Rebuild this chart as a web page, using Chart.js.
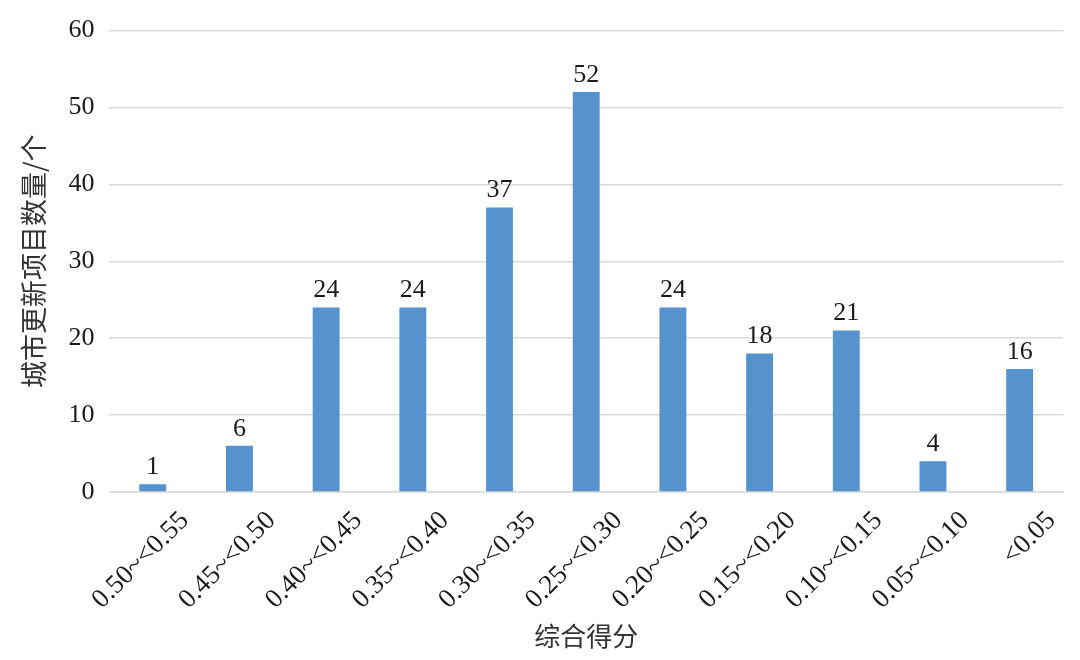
<!DOCTYPE html>
<html>
<head>
<meta charset="utf-8">
<script src="https://cdn.jsdelivr.net/npm/chart.js@4.4.0/dist/chart.umd.min.js"></script>
<style>
  html, body { margin: 0; padding: 0; background: #fff; }
  #wrap { width: 1080px; height: 660px; }
</style>
</head>
<body>
<div id="wrap"><canvas id="scoreChart" width="1080" height="660"></canvas></div>
<script>
const categories = ['0.50~<0.55', '0.45~<0.50', '0.40~<0.45', '0.35~<0.40', '0.30~<0.35',
  '0.25~<0.30', '0.20~<0.25', '0.15~<0.20', '0.10~<0.15', '0.05~<0.10', '<0.05'];
const projectCounts = [1, 6, 24, 24, 37, 52, 24, 18, 21, 4, 16];
const yTicks = [0, 10, 20, 30, 40, 50, 60];

const serif = '"Liberation Serif", "Times New Roman", serif';
const cjk = '"Noto Sans CJK SC", sans-serif';

// draws the value above each bar
const barValues = {
  id: 'barValues',
  afterDatasetsDraw(chart) {
    const ctx = chart.ctx;
    const meta = chart.getDatasetMeta(0);
    ctx.save();
    ctx.font = '26px ' + serif;
    ctx.fillStyle = '#1a1a1a';
    ctx.textAlign = 'center';
    ctx.textBaseline = 'bottom';
    meta.data.forEach((bar, i) => {
      ctx.fillText(String(projectCounts[i]), bar.x, bar.y - 4);
    });
    ctx.restore();
  }
};

const ctxScore = document.getElementById('scoreChart').getContext('2d');
const scoreChart = new Chart(ctxScore, {
  type: 'bar',
  data: {
    labels: categories,
    datasets: [{
      label: '城市更新项目数量',
      data: projectCounts,
      backgroundColor: '#5692ce',
      categoryPercentage: 1,
      barPercentage: 0.31
    }]
  },
  options: {
    responsive: false,
    animation: false,
    layout: {
      padding: { left: 14, right: 17, top: 25, bottom: 4 }
    },
    scales: {
      y: {
        min: 0,
        max: 60,
        afterBuildTicks(axis) {
          axis.ticks = yTicks.map(v => ({ value: v }));
        },
        border: { display: false },
        grid: { color: '#d9d9d9', lineWidth: 1.5, drawTicks: false },
        ticks: {
          color: '#1a1a1a',
          padding: 15,
          font: { family: serif, size: 26 }
        },
        title: {
          display: true,
          text: '城市更新项目数量/个',
          color: '#333',
          font: { family: cjk, size: 27 },
          padding: { bottom: 3 }
        }
      },
      x: {
        border: { color: '#d9d9d9', width: 1.5 },
        grid: { display: false },
        ticks: {
          color: '#1a1a1a',
          minRotation: 45,
          maxRotation: 45,
          padding: 5,
          labelOffset: 32,
          font: { family: serif, size: 27 }
        },
        title: {
          display: true,
          text: '综合得分',
          color: '#333',
          font: { family: cjk, size: 26 },
          padding: { top: 0 }
        }
      }
    },
    plugins: {
      legend: { display: false },
      tooltip: { enabled: false }
    }
  },
  plugins: [barValues]
});
</script>
</body>
</html>
